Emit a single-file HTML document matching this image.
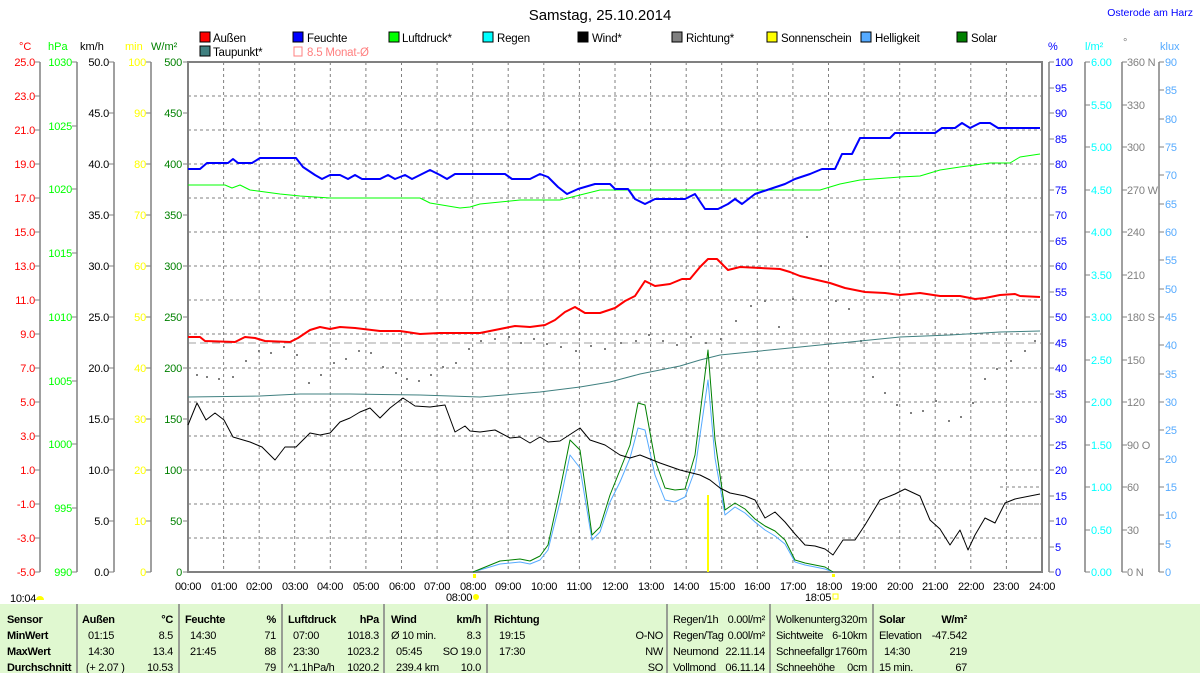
<!DOCTYPE html>
<html><head><meta charset="utf-8"><style>
html,body{margin:0;padding:0;background:#fff;}
svg{display:block;font-family:"Liberation Sans",sans-serif;}
</style></head><body>
<svg width="1200" height="673" viewBox="0 0 1200 673" xmlns="http://www.w3.org/2000/svg">
<rect width="1200" height="673" fill="#fff"/>
<text x="600" y="20" font-size="15" text-anchor="middle" fill="#000">Samstag, 25.10.2014</text>
<text x="1193" y="16" font-size="10.5" text-anchor="end" fill="#0000ff">Osterode am Harz</text>

<!-- legend -->
<g font-size="11.5" letter-spacing="-0.2">
<rect x="200" y="32" width="10" height="10" fill="#f00" stroke="#000"/><text x="213" y="42">Außen</text>
<rect x="293" y="32" width="10" height="10" fill="#00f" stroke="#000"/><text x="307" y="42">Feuchte</text>
<rect x="389" y="32" width="10" height="10" fill="#0f0" stroke="#000"/><text x="402" y="42">Luftdruck*</text>
<rect x="483" y="32" width="10" height="10" fill="#0ff" stroke="#000"/><text x="497" y="42">Regen</text>
<rect x="578" y="32" width="10" height="10" fill="#000" stroke="#000"/><text x="592" y="42">Wind*</text>
<rect x="672" y="32" width="10" height="10" fill="#808080" stroke="#000"/><text x="686" y="42">Richtung*</text>
<rect x="767" y="32" width="10" height="10" fill="#ff0" stroke="#000"/><text x="781" y="42">Sonnenschein</text>
<rect x="861" y="32" width="10" height="10" fill="#55aaff" stroke="#000"/><text x="875" y="42">Helligkeit</text>
<rect x="957" y="32" width="10" height="10" fill="#008000" stroke="#000"/><text x="971" y="42">Solar</text>
<rect x="200" y="46" width="10" height="10" fill="#408080" stroke="#000"/><text x="213" y="56">Taupunkt*</text>
<rect x="294" y="47" width="8" height="9" fill="none" stroke="#ff8080"/><text x="307" y="56" fill="#ff8080">8.5 Monat-Ø</text>
</g>

<!-- unit headers -->
<g font-size="11">
<text x="19" y="50" fill="#f00">°C</text>
<text x="48" y="50" fill="#0f0">hPa</text>
<text x="80" y="50" fill="#000">km/h</text>
<text x="125" y="50" fill="#ff0">min</text>
<text x="151" y="50" fill="#008000">W/m²</text>
<text x="1048" y="50" fill="#00f">%</text>
<text x="1085" y="50" fill="#0ff">l/m²</text>
<text x="1123" y="46" fill="#808080">°</text>
<text x="1160" y="50" fill="#55aaff">klux</text>
</g>

<!-- grid -->
<g stroke="#808080" stroke-dasharray="3,3" stroke-width="1">
<path d="M223.6 62V572M259.2 62V572M294.7 62V572M330.3 62V572M365.9 62V572M401.5 62V572M437.1 62V572M472.7 62V572M508.2 62V572M543.8 62V572M579.4 62V572M615 62V572M650.6 62V572M686.2 62V572M721.7 62V572M757.3 62V572M792.9 62V572M828.5 62V572M864.1 62V572M899.7 62V572M935.2 62V572M970.8 62V572M1006.4 62V572"/>
<path d="M188 96H1042M188 130H1042M188 164H1042M188 198H1042M188 232H1042M188 266H1042M188 300H1042M188 334H1042M188 368H1042M188 402H1042M188 436H1042M188 470H1042M188 504H1042M188 538H1042"/>
<path d="M1000 487H1042M1000 504H1042"/>
</g>
<path d="M188 343H1042" stroke="#a0a0a0" stroke-dasharray="8,4"/>

<!-- plot border -->
<g stroke="#808080" fill="none">
<path d="M188 62H1042V572H188Z" stroke-width="2"/>
<path d="M40 62V572M77 62V572M114 62V572M151 62V572M1049 62V572M1085 62V572M1122 62V572M1159 62V572" stroke-width="1.5"/>
</g>

<!-- left axis labels -->
<g font-size="11" text-anchor="end" letter-spacing="-0.2">
<g fill="#f00">
<text x="35" y="66">25.0</text><text x="35" y="100">23.0</text><text x="35" y="134">21.0</text><text x="35" y="168">19.0</text><text x="35" y="202">17.0</text><text x="35" y="236">15.0</text><text x="35" y="270">13.0</text><text x="35" y="304">11.0</text><text x="35" y="338">9.0</text><text x="35" y="372">7.0</text><text x="35" y="406">5.0</text><text x="35" y="440">3.0</text><text x="35" y="474">1.0</text><text x="35" y="508">-1.0</text><text x="35" y="542">-3.0</text><text x="35" y="576">-5.0</text>
</g>
<g fill="#0f0">
<text x="72" y="66">1030</text><text x="72" y="130">1025</text><text x="72" y="193">1020</text><text x="72" y="257">1015</text><text x="72" y="321">1010</text><text x="72" y="385">1005</text><text x="72" y="448">1000</text><text x="72" y="512">995</text><text x="72" y="576">990</text>
</g>
<g fill="#000">
<text x="109" y="66">50.0</text><text x="109" y="117">45.0</text><text x="109" y="168">40.0</text><text x="109" y="219">35.0</text><text x="109" y="270">30.0</text><text x="109" y="321">25.0</text><text x="109" y="372">20.0</text><text x="109" y="423">15.0</text><text x="109" y="474">10.0</text><text x="109" y="525">5.0</text><text x="109" y="576">0.0</text>
</g>
<g fill="#ff0">
<text x="146" y="66">100</text><text x="146" y="117">90</text><text x="146" y="168">80</text><text x="146" y="219">70</text><text x="146" y="270">60</text><text x="146" y="321">50</text><text x="146" y="372">40</text><text x="146" y="423">30</text><text x="146" y="474">20</text><text x="146" y="525">10</text><text x="146" y="576">0</text>
</g>
<g fill="#008000">
<text x="182" y="66">500</text><text x="182" y="117">450</text><text x="182" y="168">400</text><text x="182" y="219">350</text><text x="182" y="270">300</text><text x="182" y="321">250</text><text x="182" y="372">200</text><text x="182" y="423">150</text><text x="182" y="474">100</text><text x="182" y="525">50</text><text x="182" y="576">0</text>
</g>
</g>
<g stroke="#808080">
<path d="M35 62h5M35 96h5M35 130h5M35 164h5M35 198h5M35 232h5M35 266h5M35 300h5M35 334h5M35 368h5M35 402h5M35 436h5M35 470h5M35 504h5M35 538h5M35 572h5"/>
<path d="M72 62h5M72 126h5M72 189h5M72 253h5M72 317h5M72 381h5M72 444h5M72 508h5M72 572h5"/>
<path d="M109 62h5M109 113h5M109 164h5M109 215h5M109 266h5M109 317h5M109 368h5M109 419h5M109 470h5M109 521h5M109 572h5"/>
<path d="M146 62h5M146 113h5M146 164h5M146 215h5M146 266h5M146 317h5M146 368h5M146 419h5M146 470h5M146 521h5M146 572h5"/>
<path d="M183 62h5M183 113h5M183 164h5M183 215h5M183 266h5M183 317h5M183 368h5M183 419h5M183 470h5M183 521h5M183 572h5"/>
</g>

<!-- right axes -->
<g font-size="11" letter-spacing="-0.2">
<g fill="#00f">
<text x="1055" y="66">100</text><text x="1055" y="92">95</text><text x="1055" y="117">90</text><text x="1055" y="143">85</text><text x="1055" y="168">80</text><text x="1055" y="194">75</text><text x="1055" y="219">70</text><text x="1055" y="245">65</text><text x="1055" y="270">60</text><text x="1055" y="296">55</text><text x="1055" y="321">50</text><text x="1055" y="347">45</text><text x="1055" y="372">40</text><text x="1055" y="398">35</text><text x="1055" y="423">30</text><text x="1055" y="449">25</text><text x="1055" y="474">20</text><text x="1055" y="500">15</text><text x="1055" y="525">10</text><text x="1055" y="551">5</text><text x="1055" y="576">0</text>
</g>
<g fill="#0ff">
<text x="1091" y="66">6.00</text><text x="1091" y="109">5.50</text><text x="1091" y="151">5.00</text><text x="1091" y="194">4.50</text><text x="1091" y="236">4.00</text><text x="1091" y="279">3.50</text><text x="1091" y="321">3.00</text><text x="1091" y="364">2.50</text><text x="1091" y="406">2.00</text><text x="1091" y="449">1.50</text><text x="1091" y="491">1.00</text><text x="1091" y="534">0.50</text><text x="1091" y="576">0.00</text>
</g>
<g fill="#808080">
<text x="1127" y="66">360 N</text><text x="1127" y="109">330</text><text x="1127" y="151">300</text><text x="1127" y="194">270 W</text><text x="1127" y="236">240</text><text x="1127" y="279">210</text><text x="1127" y="321">180 S</text><text x="1127" y="364">150</text><text x="1127" y="406">120</text><text x="1127" y="449">90  O</text><text x="1127" y="491">60</text><text x="1127" y="534">30</text><text x="1127" y="576">0   N</text>
</g>
<g fill="#55aaff">
<text x="1165" y="66">90</text><text x="1165" y="94">85</text><text x="1165" y="123">80</text><text x="1165" y="151">75</text><text x="1165" y="179">70</text><text x="1165" y="208">65</text><text x="1165" y="236">60</text><text x="1165" y="264">55</text><text x="1165" y="293">50</text><text x="1165" y="321">45</text><text x="1165" y="349">40</text><text x="1165" y="378">35</text><text x="1165" y="406">30</text><text x="1165" y="434">25</text><text x="1165" y="463">20</text><text x="1165" y="491">15</text><text x="1165" y="519">10</text><text x="1165" y="548">5</text><text x="1165" y="576">0</text>
</g>
</g>
<g stroke="#808080">
<path d="M1049 62h5M1049 88h5M1049 113h5M1049 139h5M1049 164h5M1049 190h5M1049 215h5M1049 241h5M1049 266h5M1049 292h5M1049 317h5M1049 343h5M1049 368h5M1049 394h5M1049 419h5M1049 445h5M1049 470h5M1049 496h5M1049 521h5M1049 547h5M1049 572h5"/>
<path d="M1085 62h5M1085 105h5M1085 147h5M1085 190h5M1085 232h5M1085 275h5M1085 317h5M1085 360h5M1085 402h5M1085 445h5M1085 487h5M1085 530h5M1085 572h5"/>
<path d="M1122 62h5M1122 105h5M1122 147h5M1122 190h5M1122 232h5M1122 275h5M1122 317h5M1122 360h5M1122 402h5M1122 445h5M1122 487h5M1122 530h5M1122 572h5"/>
<path d="M1159 62h5M1159 90h5M1159 119h5M1159 147h5M1159 175h5M1159 204h5M1159 232h5M1159 260h5M1159 289h5M1159 317h5M1159 345h5M1159 374h5M1159 402h5M1159 430h5M1159 459h5M1159 487h5M1159 515h5M1159 544h5M1159 572h5"/>
</g>

<!-- Richtung dots -->
<g fill="#808080">
<rect x="196" y="374" width="2" height="2"/><rect x="206" y="376" width="2" height="2"/><rect x="218" y="378" width="2" height="2"/><rect x="232" y="376" width="2" height="2"/><rect x="245" y="360" width="2" height="2"/><rect x="258" y="350" width="2" height="2"/><rect x="270" y="352" width="2" height="2"/><rect x="283" y="346" width="2" height="2"/><rect x="296" y="354" width="2" height="2"/><rect x="308" y="382" width="2" height="2"/><rect x="320" y="374" width="2" height="2"/><rect x="333" y="362" width="2" height="2"/><rect x="345" y="358" width="2" height="2"/><rect x="358" y="350" width="2" height="2"/><rect x="370" y="352" width="2" height="2"/><rect x="382" y="366" width="2" height="2"/><rect x="395" y="372" width="2" height="2"/><rect x="406" y="378" width="2" height="2"/><rect x="418" y="380" width="2" height="2"/><rect x="430" y="374" width="2" height="2"/><rect x="442" y="366" width="2" height="2"/><rect x="455" y="362" width="2" height="2"/><rect x="468" y="348" width="2" height="2"/><rect x="480" y="340" width="2" height="2"/><rect x="494" y="338" width="2" height="2"/><rect x="508" y="336" width="2" height="2"/><rect x="520" y="342" width="2" height="2"/><rect x="533" y="338" width="2" height="2"/><rect x="546" y="343" width="2" height="2"/><rect x="560" y="346" width="2" height="2"/><rect x="575" y="350" width="2" height="2"/><rect x="590" y="345" width="2" height="2"/><rect x="604" y="348" width="2" height="2"/><rect x="620" y="342" width="2" height="2"/><rect x="635" y="340" width="2" height="2"/><rect x="648" y="334" width="2" height="2"/><rect x="662" y="340" width="2" height="2"/><rect x="676" y="344" width="2" height="2"/><rect x="690" y="336" width="2" height="2"/><rect x="705" y="342" width="2" height="2"/><rect x="720" y="338" width="2" height="2"/><rect x="735" y="320" width="2" height="2"/><rect x="750" y="305" width="2" height="2"/><rect x="764" y="300" width="2" height="2"/><rect x="778" y="326" width="2" height="2"/><rect x="792" y="298" width="2" height="2"/><rect x="806" y="236" width="2" height="2"/><rect x="820" y="265" width="2" height="2"/><rect x="835" y="300" width="2" height="2"/><rect x="848" y="308" width="2" height="2"/><rect x="860" y="340" width="2" height="2"/><rect x="872" y="376" width="2" height="2"/><rect x="884" y="392" width="2" height="2"/><rect x="896" y="404" width="2" height="2"/><rect x="910" y="412" width="2" height="2"/><rect x="922" y="410" width="2" height="2"/><rect x="935" y="400" width="2" height="2"/><rect x="948" y="420" width="2" height="2"/><rect x="960" y="416" width="2" height="2"/><rect x="972" y="402" width="2" height="2"/><rect x="984" y="378" width="2" height="2"/><rect x="996" y="368" width="2" height="2"/><rect x="1010" y="360" width="2" height="2"/><rect x="1024" y="350" width="2" height="2"/><rect x="1034" y="340" width="2" height="2"/>
</g>

<rect x="707" y="495" width="2" height="77" fill="#ff0"/>

<!-- series -->
<g fill="none" stroke-linejoin="round">
<polyline stroke="#408080" stroke-width="1" points="188,397 260,396 300,394 350,394 420,395 480,397 540,392 580,387 610,382 640,374 680,366 700,360 720,355 750,352 800,347 850,342 900,337 950,335 1000,332 1040,331"/>
<polyline stroke="#00ff00" stroke-width="1" points="188,185 225,185 232,188 240,185 250,190 280,194 300,196 330,198 420,198 430,203 460,208 470,207 480,204 520,200 560,200 600,190 640,190 820,190 840,184 860,180 900,177 920,176 940,170 960,167 990,163 1010,163 1020,157 1040,154"/>
<polyline stroke="#55aaff" stroke-width="1" points="473,572 500,564 520,562 530,564 540,560 548,550 560,502 570,455 580,468 592,540 600,532 610,502 620,482 630,458 638,428 645,430 655,475 665,500 675,502 685,497 695,470 708,380 715,458 725,515 735,507 745,513 755,522 765,530 775,536 785,544 795,562 805,565 815,567 825,569 833,572"/>
<polyline stroke="#008000" stroke-width="1" points="473,572 500,561 520,559 530,561 540,556 548,545 560,490 570,440 580,450 592,535 600,527 610,495 620,470 630,445 638,403 645,405 655,460 665,488 675,490 685,489 695,455 708,350 715,440 725,510 735,503 745,509 755,519 765,526 775,531 785,540 795,560 805,563 815,565 825,567 833,572"/>
<polyline stroke="#000" stroke-width="1" points="188,425 197,403 206,420 215,413 224,420 233,437 250,442 262,447 270,455 275,460 285,447 296,447 310,433 320,435 330,433 340,422 350,418 360,412 370,408 380,418 390,408 403,398 415,406 430,407 445,405 455,432 465,426 470,431 480,432 495,430 510,438 520,437 530,443 540,437 548,442 560,441 580,428 590,440 605,445 620,455 630,458 640,455 660,463 680,470 700,475 710,480 720,488 730,493 745,496 755,500 765,518 775,512 785,522 795,534 805,545 815,546 825,549 833,555 843,540 855,540 865,525 880,500 895,494 905,489 920,496 930,520 940,529 950,545 960,530 968,550 975,535 985,518 995,523 1005,503 1015,499 1040,494"/>
<polyline stroke="#ff0000" stroke-width="2" points="188,337 200,337 205,341 235,342 245,337 255,338 265,341 290,342 298,338 310,330 320,327 330,329 340,327 355,328 380,331 400,331 420,334 440,333 480,333 490,331 515,326 530,327 545,325 555,320 565,312 575,307 585,313 600,313 615,308 625,301 635,296 645,281 655,286 670,284 682,279 690,279 700,267 708,259 717,259 728,270 740,267 780,269 790,272 800,276 830,283 845,288 865,292 885,293 900,295 920,293 940,296 960,296 975,299 985,298 1000,295 1015,294 1020,296 1040,297"/>
<polyline stroke="#0000ff" stroke-width="2" points="188,169 200,169 207,163 228,163 233,159 238,163 252,163 260,158 296,158 303,167 315,175 322,179 330,175 340,175 348,179 355,175 362,179 380,179 388,175 395,179 405,175 412,179 420,175 430,170 440,175 447,179 455,174 505,174 512,179 530,179 540,174 548,177 558,187 567,194 578,189 595,184 610,184 615,189 628,189 635,199 645,204 655,199 685,199 695,194 705,209 718,209 728,204 735,199 742,204 755,194 770,189 785,184 795,179 810,174 822,169 835,169 842,154 852,154 860,138 890,138 895,133 935,133 942,128 955,128 962,123 970,128 980,123 990,123 998,128 1040,128"/>
</g>

<!-- x axis labels -->
<g font-size="11" text-anchor="middle" fill="#000" letter-spacing="-0.3">
<text x="188" y="590">00:00</text><text x="224" y="590">01:00</text><text x="259" y="590">02:00</text><text x="295" y="590">03:00</text><text x="330" y="590">04:00</text><text x="366" y="590">05:00</text><text x="402" y="590">06:00</text><text x="437" y="590">07:00</text><text x="473" y="590">08:00</text><text x="508" y="590">09:00</text><text x="544" y="590">10:00</text><text x="579" y="590">11:00</text><text x="615" y="590">12:00</text><text x="651" y="590">13:00</text><text x="686" y="590">14:00</text><text x="722" y="590">15:00</text><text x="757" y="590">16:00</text><text x="793" y="590">17:00</text><text x="829" y="590">18:00</text><text x="864" y="590">19:00</text><text x="900" y="590">20:00</text><text x="935" y="590">21:00</text><text x="971" y="590">22:00</text><text x="1006" y="590">23:00</text><text x="1042" y="590">24:00</text>
<text x="400" y="0" fill="none"> </text>
<text x="399" y="0" fill="none"> </text>
<text x="401" y="601" fill="none"> </text>
<text x="459" y="601">08:00</text><text x="818" y="601">18:05</text>
</g>
<text x="10" y="602" font-size="11" letter-spacing="-0.3">10:04</text>
<path d="M36 600a4 4 0 0 1 8 0z" fill="#ff0"/>
<circle cx="476" cy="597" r="3" fill="#ff0"/>
<rect x="473" y="574" width="3" height="4" fill="#ff0"/>
<rect x="833" y="594" width="5" height="5" fill="none" stroke="#ff0"/>
<rect x="832" y="574" width="3" height="3" fill="#ff0"/>

<!-- table -->
<rect x="0" y="604" width="1200" height="69" fill="#e0f8d0"/>
<g stroke="#808080" stroke-width="1.5">
<path d="M77 604V673M179 604V673M282 604V673M384 604V673M487 604V673M667 604V673M770 604V673M873 604V673"/>
</g>
<g font-size="11" fill="#000" letter-spacing="-0.3">
<g font-weight="bold">
<text x="7" y="623">Sensor</text><text x="7" y="639">MinWert</text><text x="7" y="655">MaxWert</text><text x="7" y="671">Durchschnitt</text>
<text x="82" y="623">Außen</text><text x="185" y="623">Feuchte</text><text x="288" y="623">Luftdruck</text><text x="391" y="623">Wind</text><text x="494" y="623">Richtung</text><text x="879" y="623">Solar</text>
</g>
<g font-weight="bold" text-anchor="end">
<text x="173" y="623">°C</text><text x="276" y="623">%</text><text x="379" y="623">hPa</text><text x="481" y="623">km/h</text><text x="967" y="623">W/m²</text>
</g>
<text x="88" y="639">01:15</text><text x="88" y="655">14:30</text><text x="86" y="671">(+ 2.07 )</text>
<text x="190" y="639">14:30</text><text x="190" y="655">21:45</text>
<text x="293" y="639">07:00</text><text x="293" y="655">23:30</text><text x="288" y="671">^1.1hPa/h</text>
<text x="391" y="639">Ø 10 min.</text><text x="396" y="655">05:45</text><text x="396" y="671">239.4 km</text>
<text x="499" y="639">19:15</text><text x="499" y="655">17:30</text>
<text x="673" y="623">Regen/1h</text><text x="673" y="639">Regen/Tag</text><text x="673" y="655">Neumond</text><text x="673" y="671">Vollmond</text>
<text x="776" y="623">Wolkenunterg</text><text x="776" y="639">Sichtweite</text><text x="776" y="655">Schneefallgr</text><text x="776" y="671">Schneehöhe</text>
<text x="879" y="639">Elevation</text><text x="884" y="655">14:30</text><text x="879" y="671">15 min.</text>
<g text-anchor="end">
<text x="173" y="639">8.5</text><text x="173" y="655">13.4</text><text x="173" y="671">10.53</text>
<text x="276" y="639">71</text><text x="276" y="655">88</text><text x="276" y="671">79</text>
<text x="379" y="639">1018.3</text><text x="379" y="655">1023.2</text><text x="379" y="671">1020.2</text>
<text x="481" y="639">8.3</text><text x="481" y="655">SO 19.0</text><text x="481" y="671">10.0</text>
<text x="663" y="639">O-NO</text><text x="663" y="655">NW</text><text x="663" y="671">SO</text>
<text x="765" y="623">0.00l/m²</text><text x="765" y="639">0.00l/m²</text><text x="765" y="655">22.11.14</text><text x="765" y="671">06.11.14</text>
<text x="867" y="623">320m</text><text x="867" y="639">6-10km</text><text x="867" y="655">1760m</text><text x="867" y="671">0cm</text>
<text x="967" y="639">-47.542</text><text x="967" y="655">219</text><text x="967" y="671">67</text>
</g>
</g>
</svg>
</body></html>
